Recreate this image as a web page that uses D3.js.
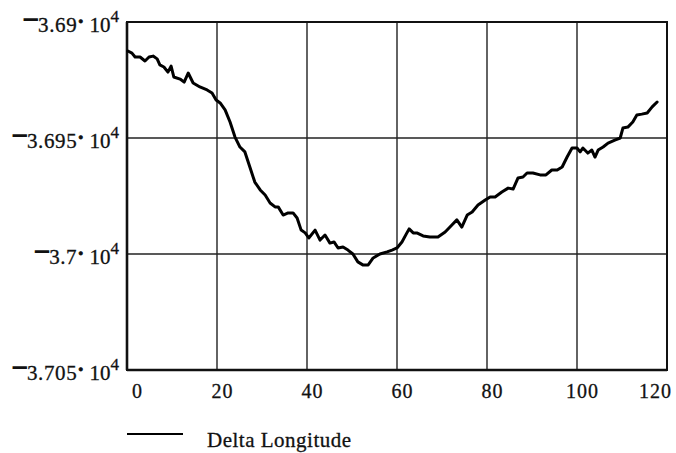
<!DOCTYPE html>
<html>
<head>
<meta charset="utf-8">
<script src="https://cdn.jsdelivr.net/npm/d3@7"></script>
<style>
  html, body { margin: 0; padding: 0; background: #fff; }
  svg { display: block; }
</style>
</head>
<body>
<svg id="chart" width="676" height="453"></svg>
<script>
// ---- data ----
const xValues = [0.2,1.1,1.8,2.9,4.0,4.9,5.8,6.7,7.3,8.2,9.1,9.8,10.4,11.8,12.7,13.6,14.7,16.2,17.8,18.9,
  19.8,20.7,21.8,22.9,24.0,25.1,26.2,27.3,28.4,29.6,30.7,31.8,32.9,33.6,34.7,35.8,36.9,37.8,38.7,39.6,
  40.4,41.8,42.9,44.0,45.1,46.0,46.9,48.0,49.1,50.2,51.3,52.4,53.6,54.7,56.2,57.8,58.9,60.0,61.1,62.2,
  62.7,63.6,64.4,65.8,67.3,69.1,70.7,72.2,73.3,74.4,75.6,76.7,78.0,79.6,80.7,81.8,83.3,84.7,85.8,86.9,
  88.0,88.9,90.2,91.8,93.1,94.4,95.6,96.7,97.8,98.9,100.0,100.7,101.3,102.4,103.3,104.0,104.7,105.8,106.9,108.4,
  109.6,110.2,111.3,112.4,113.3,114.4,115.6,116.7,117.8];
const deltaLongitude = [-36912.5,-36913.4,-36915.1,-36915.1,-36916.8,-36915.1,-36914.7,-36915.9,-36918.5,-36919.4,
  -36921.6,-36919.0,-36923.7,-36924.6,-36925.9,-36922.0,-36926.3,-36928.0,-36929.3,-36930.6,
  -36933.6,-36934.9,-36937.9,-36943.1,-36949.6,-36953.9,-36956.0,-36962.5,-36969.0,-36972.4,
  -36974.6,-36978.0,-36979.7,-36979.7,-36983.2,-36982.3,-36982.3,-36984.5,-36989.7,-36990.9,
  -36993.1,-36989.7,-36994.0,-36991.8,-36995.3,-36994.8,-36997.4,-36997.0,-36998.3,-37000.0,
  -37003.4,-37004.7,-37004.7,-37001.7,-37000.0,-36999.1,-36998.3,-36997.4,-36994.8,-36990.9,
  -36989.2,-36990.9,-36990.9,-36992.2,-36992.7,-36992.7,-36990.5,-36987.5,-36985.3,-36988.4,
  -36983.2,-36981.9,-36978.9,-36976.7,-36975.4,-36975.4,-36973.3,-36971.6,-36972.0,-36967.2,
  -36966.8,-36965.1,-36965.1,-36965.9,-36965.9,-36963.8,-36963.8,-36962.5,-36958.2,-36954.3,
  -36954.3,-36956.0,-36954.3,-36956.5,-36955.2,-36958.2,-36955.2,-36953.9,-36952.2,-36950.9,
  -36950.0,-36945.7,-36945.3,-36943.1,-36940.1,-36939.7,-36939.2,-36936.6,-36934.5];
const xTicks = [0, 20, 40, 60, 80, 100, 120];
const yTicks = [-36900, -36950, -37000, -37050];
const yTickMantissa = ["3.69", "3.695", "3.7", "3.705"];
const yTickExponent = "4";
const seriesName = "Delta Longitude";

// ---- layout ----
const svg = d3.select("#chart");
const pLeft = 127, pRight = 667, pTop = 22, pBottom = 370;
const x = d3.scaleLinear().domain([0, 120]).range([pLeft, pRight]);
const y = d3.scaleLinear().domain([-37050, -36900]).range([pBottom, pTop]);
const font = "'Liberation Serif', 'Times New Roman', serif";
const ink = "#111";

// grid
svg.append("g").selectAll("line").data(xTicks.filter(d => d > 0 && d < 120)).join("line")
  .attr("x1", d => x(d)).attr("x2", d => x(d)).attr("y1", pTop).attr("y2", pBottom)
  .attr("stroke", "#222").attr("stroke-width", 1.4);
svg.append("g").selectAll("line").data(yTicks.filter(d => d > -37050 && d < -36900)).join("line")
  .attr("y1", d => y(d)).attr("y2", d => y(d)).attr("x1", pLeft).attr("x2", pRight)
  .attr("stroke", "#222").attr("stroke-width", 1.4);

// frame
svg.append("rect").attr("x", pLeft).attr("y", pTop).attr("width", pRight - pLeft).attr("height", pBottom - pTop)
  .attr("fill", "none").attr("stroke", ink).attr("stroke-width", 2);
svg.append("line").attr("x1", pLeft).attr("x2", pLeft).attr("y1", pTop).attr("y2", pBottom)
  .attr("stroke", ink).attr("stroke-width", 2.6);
svg.append("line").attr("x1", pLeft).attr("x2", pRight).attr("y1", pBottom).attr("y2", pBottom)
  .attr("stroke", ink).attr("stroke-width", 2.6);

// x axis labels
const xAxis = d3.axisBottom(x).tickValues(xTicks).tickSize(0).tickPadding(0).tickFormat(d3.format("d"));
const gx = svg.append("g").attr("transform", `translate(0,${pBottom})`).call(xAxis);
gx.select(".domain").remove();
gx.selectAll("text")
  .attr("font-family", font).attr("font-size", 20).attr("fill", ink)
  .attr("stroke", ink).attr("stroke-width", 0.3)
  .attr("letter-spacing", 1)
  .attr("dy", 28)
  .attr("dx", d => d === 0 ? 10 : (d === 120 ? -12 : 5));

// y axis labels
const gy = svg.append("g");
yTicks.forEach((v, i) => {
  const t = gy.append("text")
    .attr("x", 119).attr("y", y(v) + 10)
    .attr("text-anchor", "end")
    .attr("font-family", font).attr("font-size", 21).attr("fill", ink)
    .attr("stroke", ink).attr("stroke-width", 0.3);
  t.append("tspan").attr("font-size", 25).attr("stroke-width", 1.6)
    .attr("dy", -6).text("\u2013");
  t.append("tspan").attr("dy", 6).attr("dx", 1).attr("letter-spacing", 0.6).text(yTickMantissa[i]);
  t.append("tspan").attr("font-weight", "bold").attr("stroke-width", 0.8).attr("dy", -4).text("\u00B7");
  t.append("tspan").attr("dy", 4).text(" 10");
  t.append("tspan").attr("dy", -10).attr("font-size", 17).text(yTickExponent);
});

// series line
const line = d3.line().x((d, i) => x(xValues[i])).y(d => y(d));
svg.append("path").datum(deltaLongitude)
  .attr("d", line)
  .attr("fill", "none").attr("stroke", "#000").attr("stroke-width", 3)
  .attr("stroke-linejoin", "round").attr("stroke-linecap", "round");

// legend
svg.append("line").attr("x1", 127).attr("x2", 183).attr("y1", 434).attr("y2", 434)
  .attr("stroke", "#000").attr("stroke-width", 2);
svg.append("text").attr("x", 207).attr("y", 447)
  .attr("font-family", font).attr("font-size", 21).attr("letter-spacing", 0.5).attr("fill", ink)
  .attr("stroke", ink).attr("stroke-width", 0.3)
  .text(seriesName);
</script>
</body>
</html>
